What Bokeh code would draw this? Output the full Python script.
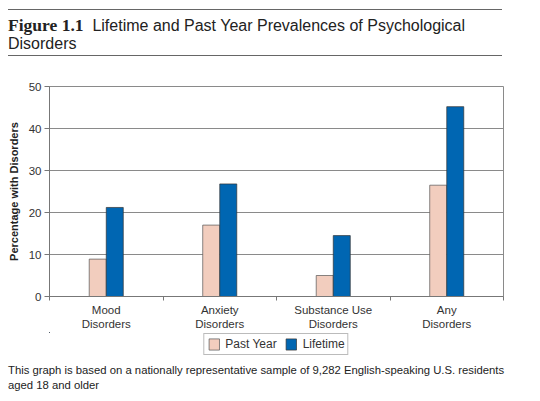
from bokeh.plotting import figure
from bokeh.models import (ColumnDataSource, FixedTicker, Legend, LegendItem, Div, Range1d)
from bokeh.layouts import column
from bokeh.transform import dodge
from bokeh.embed import file_html
from bokeh.resources import INLINE

categories = ["Mood\nDisorders", "Anxiety\nDisorders", "Substance Use\nDisorders", "Any\nDisorders"]
past_year = [8.9, 17.0, 5.0, 26.5]
lifetime = [21.2, 26.8, 14.5, 45.2]
y_ticks = [0, 10, 20, 30, 40, 50]
series_names = ["Past Year", "Lifetime"]

PINK = "#F2CDBE"
BLUE = "#0066B2"
PINK_LINE = "#555555"
BLUE_LINE = "#333333"
FONT = "Liberation Sans"

xpos = [i + 0.5 for i in range(len(categories))]
src = ColumnDataSource(dict(x=xpos, past=past_year, life=lifetime))

p = figure(width=540, height=276, output_backend="svg", toolbar_location=None,
           x_range=Range1d(0, len(categories)), y_range=Range1d(0, 50),
           min_border_left=49, min_border_right=37, min_border_top=30, min_border_bottom=35)

bw = 0.15
p.vbar(x=dodge("x", -bw / 2, range=p.x_range), top="past", width=bw, source=src,
       fill_color=PINK, line_color=PINK_LINE, line_width=0.7)
p.vbar(x=dodge("x", bw / 2, range=p.x_range), top="life", width=bw, source=src,
       fill_color=BLUE, line_color=BLUE_LINE, line_width=0.7)

p.outline_line_color = "#8a8a8a"
p.outline_line_width = 1
p.background_fill_color = "white"
p.border_fill_color = "white"

# x axis
xa = p.xaxis[0]
xa.ticker = FixedTicker(ticks=xpos, minor_ticks=list(range(len(categories) + 1)))
xa.major_label_overrides = {x: c for x, c in zip(xpos, categories)}
xa.major_tick_out = 0
xa.major_tick_in = 0
xa.minor_tick_out = 4
xa.minor_tick_in = 0
xa.minor_tick_line_color = "#777777"
xa.axis_line_color = "#777777"
xa.major_label_text_font = FONT
xa.major_label_text_font_size = "11.5px"
xa.major_label_text_color = "#333333"
xa.major_label_standoff = 3

# y axis
ya = p.yaxis[0]
ya.ticker = FixedTicker(ticks=y_ticks, minor_ticks=[])
ya.major_tick_out = 5
ya.major_tick_in = 0
ya.major_tick_line_color = "#777777"
ya.axis_line_color = "#777777"
ya.major_label_text_font = FONT
ya.major_label_text_font_size = "11.5px"
ya.major_label_text_color = "#333333"
ya.major_label_standoff = 3
ya.axis_label = "Percentage with Disorders"
ya.axis_label_text_font = FONT
ya.axis_label_text_font_style = "bold"
ya.axis_label_text_font_size = "11px"
ya.axis_label_text_color = "#222222"
ya.axis_label_standoff = 6

p.xgrid.grid_line_color = None
p.ygrid.grid_line_color = "#8a8a8a"
p.ygrid.grid_line_width = 1

# legend strip: a separate small figure (so the legend is not clipped by the chart frame);
# its proxy bars lie far outside its x and y ranges, so only their legend swatches show
lg = figure(width=540, height=24, output_backend="svg", toolbar_location=None,
            x_axis_type=None, y_axis_type=None,
            x_range=Range1d(1000, 1001), y_range=Range1d(-200, -100),
            min_border_left=11, min_border_right=0, min_border_top=0, min_border_bottom=0)
lg.outline_line_color = None
lg.xgrid.grid_line_color = None
lg.ygrid.grid_line_color = None
lr1 = lg.vbar(x="x", top="past", width=0.1, source=src,
              fill_color=PINK, line_color=PINK_LINE, line_width=0.7)
lr2 = lg.vbar(x="x", top="life", width=0.1, source=src,
              fill_color=BLUE, line_color=BLUE_LINE, line_width=0.7)

legend = Legend(items=[LegendItem(label=series_names[0], renderers=[lr1]),
                       LegendItem(label=series_names[1], renderers=[lr2])],
                orientation="horizontal", location="top_center")
legend.label_text_font = FONT
legend.label_text_font_size = "12px"
legend.label_text_color = "#333333"
legend.border_line_color = "#777777"
legend.border_line_width = 1
legend.glyph_width = 13
legend.glyph_height = 14
legend.label_standoff = 5
legend.spacing = 8
legend.padding = 3
legend.margin = 1
legend.label_height = 14
lg.add_layout(legend, "center")

title_div = Div(
    text=("<div style=\"width:494px;margin:9px 0 0 8px;border-top:1px solid #666;border-bottom:1px solid #666;"
          "padding:6px 0 2px 0;font-family:'Liberation Sans';font-size:16px;line-height:18px;color:#222;\">"
          "<span style=\"font-family:'Liberation Serif';font-weight:bold;font-size:17.5px;\">Figure 1.1</span>"
          "&nbsp; Lifetime and Past Year Prevalences of Psychological<br>Disorders</div>"),
    width=540, height=56, margin=(0, 0, 0, 0))

foot_div = Div(
    text=("<div style=\"margin-left:8px;font-family:'Liberation Sans';font-size:11.3px;line-height:15px;color:#222;"
          "white-space:nowrap;padding-top:7px;\">"
          "This graph is based on a nationally representative sample of 9,282 English-speaking U.S. residents"
          "<br>aged 18 and older</div>"),
    width=540, height=44, margin=(0, 0, 0, 0))

layout = column(title_div, p, lg, foot_div, spacing=0)
open("out.html", "w").write(file_html(layout, INLINE))
